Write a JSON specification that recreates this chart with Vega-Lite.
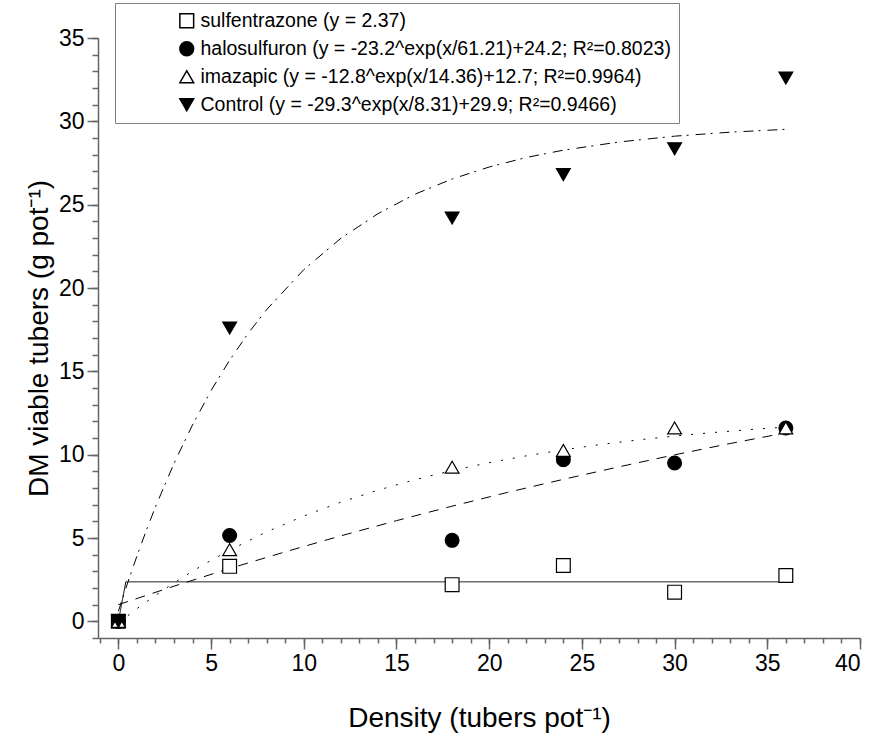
{
  "$schema": "https://vega.github.io/schema/vega-lite/v6.json",
  "width": 762,
  "height": 600,
  "autosize": "none",
  "padding": {"left": 98, "top": 38, "right": 17, "bottom": 98},
  "background": "white",
  "config": {
    "view": {"stroke": null},
    "font": "Liberation Sans",
    "axis": {
      "grid": false,
      "domainColor": "#666666",
      "domainWidth": 1.5,
      "tickColor": "#666666",
      "tickWidth": 1.5,
      "labelColor": "black",
      "labelFont": "Liberation Sans",
      "labelFontSize": 23,
      "titleFont": "Liberation Sans",
      "titleFontSize": 28,
      "titleFontWeight": "normal",
      "titleColor": "black"
    },
    "legend": {
      "orient": "none", "legendX": 17, "legendY": -35,
      "strokeColor": "#808080", "fillColor": "white",
      "padding": 8, "symbolOffset": 54, "labelOffset": 4, "rowPadding": 7,
      "labelFont": "Liberation Sans", "labelFontSize": 19.5, "labelColor": "black", "labelLimit": 700,
      "symbolSize": 190
    }
  },
  "datasets": {
    "obs": [
      {"series": "sulfentrazone", "x": 0, "y": 0},
      {"series": "sulfentrazone", "x": 6, "y": 3.3},
      {"series": "sulfentrazone", "x": 18, "y": 2.2},
      {"series": "sulfentrazone", "x": 24, "y": 3.35},
      {"series": "sulfentrazone", "x": 30, "y": 1.75},
      {"series": "sulfentrazone", "x": 36, "y": 2.75},
      {"series": "halosulfuron", "x": 0, "y": 0},
      {"series": "halosulfuron", "x": 6, "y": 5.15},
      {"series": "halosulfuron", "x": 18, "y": 4.86},
      {"series": "halosulfuron", "x": 24, "y": 9.7},
      {"series": "halosulfuron", "x": 30, "y": 9.5},
      {"series": "halosulfuron", "x": 36, "y": 11.6},
      {"series": "imazapic", "x": 0, "y": 0},
      {"series": "imazapic", "x": 6, "y": 4.3},
      {"series": "imazapic", "x": 18, "y": 9.25},
      {"series": "imazapic", "x": 24, "y": 10.25},
      {"series": "imazapic", "x": 30, "y": 11.6},
      {"series": "imazapic", "x": 36, "y": 11.6},
      {"series": "Control", "x": 0, "y": 0},
      {"series": "Control", "x": 6, "y": 17.6},
      {"series": "Control", "x": 18, "y": 24.2},
      {"series": "Control", "x": 24, "y": 26.8},
      {"series": "Control", "x": 30, "y": 28.35},
      {"series": "Control", "x": 36, "y": 32.6}
    ],
    "fit": [
      {"series": "sulfentrazone", "x": 0, "y": 0},
      {"series": "sulfentrazone", "x": 0.4, "y": 2.37},
      {"series": "sulfentrazone", "x": 36, "y": 2.37},
      {"series": "halosulfuron", "x": 0, "y": 1.0},
      {"series": "halosulfuron", "x": 3, "y": 2.11},
      {"series": "halosulfuron", "x": 6, "y": 3.17},
      {"series": "halosulfuron", "x": 9, "y": 4.17},
      {"series": "halosulfuron", "x": 12, "y": 5.13},
      {"series": "halosulfuron", "x": 15, "y": 6.04},
      {"series": "halosulfuron", "x": 18, "y": 6.91},
      {"series": "halosulfuron", "x": 21, "y": 7.74},
      {"series": "halosulfuron", "x": 24, "y": 8.52},
      {"series": "halosulfuron", "x": 27, "y": 9.27},
      {"series": "halosulfuron", "x": 30, "y": 9.99},
      {"series": "halosulfuron", "x": 33, "y": 10.67},
      {"series": "halosulfuron", "x": 36, "y": 11.31},
      {"series": "imazapic", "x": 0, "y": -0.1},
      {"series": "imazapic", "x": 1, "y": 0.76},
      {"series": "imazapic", "x": 2, "y": 1.56},
      {"series": "imazapic", "x": 3, "y": 2.31},
      {"series": "imazapic", "x": 4, "y": 3.01},
      {"series": "imazapic", "x": 5, "y": 3.66},
      {"series": "imazapic", "x": 6, "y": 4.27},
      {"series": "imazapic", "x": 8, "y": 5.37},
      {"series": "imazapic", "x": 10, "y": 6.32},
      {"series": "imazapic", "x": 12, "y": 7.15},
      {"series": "imazapic", "x": 14, "y": 7.87},
      {"series": "imazapic", "x": 16, "y": 8.5},
      {"series": "imazapic", "x": 18, "y": 9.05},
      {"series": "imazapic", "x": 20, "y": 9.52},
      {"series": "imazapic", "x": 22, "y": 9.93},
      {"series": "imazapic", "x": 24, "y": 10.29},
      {"series": "imazapic", "x": 26, "y": 10.61},
      {"series": "imazapic", "x": 28, "y": 10.88},
      {"series": "imazapic", "x": 30, "y": 11.12},
      {"series": "imazapic", "x": 32, "y": 11.32},
      {"series": "imazapic", "x": 34, "y": 11.5},
      {"series": "imazapic", "x": 36, "y": 11.66},
      {"series": "Control", "x": 0, "y": 0.6},
      {"series": "Control", "x": 0.5, "y": 2.31},
      {"series": "Control", "x": 1, "y": 3.92},
      {"series": "Control", "x": 1.5, "y": 5.44},
      {"series": "Control", "x": 2, "y": 6.87},
      {"series": "Control", "x": 3, "y": 9.48},
      {"series": "Control", "x": 4, "y": 11.79},
      {"series": "Control", "x": 5, "y": 13.85},
      {"series": "Control", "x": 6, "y": 15.67},
      {"series": "Control", "x": 7, "y": 17.28},
      {"series": "Control", "x": 8, "y": 18.71},
      {"series": "Control", "x": 10, "y": 21.1},
      {"series": "Control", "x": 12, "y": 22.98},
      {"series": "Control", "x": 14, "y": 24.46},
      {"series": "Control", "x": 16, "y": 25.63},
      {"series": "Control", "x": 18, "y": 26.54},
      {"series": "Control", "x": 20, "y": 27.26},
      {"series": "Control", "x": 22, "y": 27.83},
      {"series": "Control", "x": 24, "y": 28.27},
      {"series": "Control", "x": 27, "y": 28.76},
      {"series": "Control", "x": 30, "y": 29.11},
      {"series": "Control", "x": 33, "y": 29.35},
      {"series": "Control", "x": 36, "y": 29.52}
    ]
  },
  "layer": [
    {
      "data": {"name": "fit"},
      "mark": {"type": "line", "strokeWidth": 1, "color": "black"},
      "encoding": {
        "x": {
          "field": "x", "type": "quantitative",
          "scale": {"domain": [-1.1, 40], "nice": false, "zero": false},
          "axis": {
            "orient": "bottom",
            "values": [0, 5, 10, 15, 20, 25, 30, 35, 40],
            "tickSize": 11,
            "labelPadding": 3,
            "title": "Density (tubers pot⁻¹)",
            "titlePadding": 29
          }
        },
        "y": {
          "field": "y", "type": "quantitative",
          "scale": {"domain": [-1, 35], "nice": false, "zero": false},
          "axis": {
            "orient": "left",
            "values": [0, 5, 10, 15, 20, 25, 30, 35],
            "tickSize": 11,
            "labelPadding": 3,
            "title": "DM viable tubers (g pot⁻¹)",
            "titlePadding": 5
          }
        },
        "detail": {"field": "series"},
        "strokeDash": {
          "field": "series", "type": "nominal",
          "scale": {
            "domain": ["Control", "imazapic", "halosulfuron", "sulfentrazone"],
            "range": [[10, 5, 2, 7], [2, 10], [10, 8], [1, 0]]
          },
          "legend": null
        }
      }
    },
    {
      "data": {"name": "obs"},
      "mark": {"type": "point", "filled": false, "stroke": "black", "strokeWidth": 1.2, "opacity": 1, "size": 190},
      "encoding": {
        "x": {
          "field": "x", "type": "quantitative",
          "axis": {
            "orient": "bottom",
            "values": [-1, 0, 1, 2, 3, 4, 5, 6, 7, 8, 9, 10, 11, 12, 13, 14, 15, 16, 17, 18, 19, 20, 21, 22, 23, 24, 25, 26, 27, 28, 29, 30, 31, 32, 33, 34, 35, 36, 37, 38, 39, 40],
            "tickSize": 5,
            "labels": false,
            "domain": false,
            "title": null
          }
        },
        "y": {
          "field": "y", "type": "quantitative",
          "axis": {
            "orient": "left",
            "values": [-1, 0, 1, 2, 3, 4, 5, 6, 7, 8, 9, 10, 11, 12, 13, 14, 15, 16, 17, 18, 19, 20, 21, 22, 23, 24, 25, 26, 27, 28, 29, 30, 31, 32, 33, 34, 35],
            "tickSize": 6,
            "labels": false,
            "domain": false,
            "title": null
          }
        },
        "shape": {
          "field": "series", "type": "nominal",
          "scale": {
            "domain": ["sulfentrazone", "halosulfuron", "imazapic", "Control"],
            "range": ["square", "circle", "triangle-up", "triangle-down"]
          },
          "legend": {
            "title": null,
            "labelExpr": "datum.label == 'sulfentrazone' ? 'sulfentrazone (y = 2.37)' : datum.label == 'halosulfuron' ? 'halosulfuron (y = -23.2^exp(x/61.21)+24.2; R²=0.8023)' : datum.label == 'imazapic' ? 'imazapic (y = -12.8^exp(x/14.36)+12.7; R²=0.9964)' : 'Control (y = -29.3^exp(x/8.31)+29.9; R²=0.9466)'"
          }
        },
        "fill": {
          "field": "series", "type": "nominal",
          "scale": {
            "domain": ["sulfentrazone", "halosulfuron", "imazapic", "Control"],
            "range": ["white", "black", "white", "black"]
          },
          "legend": {
            "title": null,
            "labelExpr": "datum.label == 'sulfentrazone' ? 'sulfentrazone (y = 2.37)' : datum.label == 'halosulfuron' ? 'halosulfuron (y = -23.2^exp(x/61.21)+24.2; R²=0.8023)' : datum.label == 'imazapic' ? 'imazapic (y = -12.8^exp(x/14.36)+12.7; R²=0.9964)' : 'Control (y = -29.3^exp(x/8.31)+29.9; R²=0.9466)'"
          }
        }
      }
    }
  ],
  "resolve": {"axis": {"x": "independent", "y": "independent"}}
}
